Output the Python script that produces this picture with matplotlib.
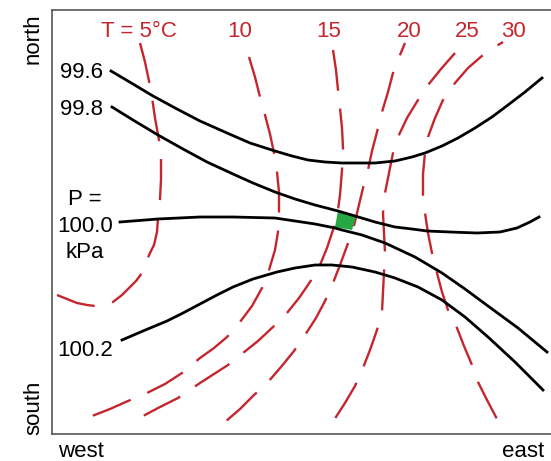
import matplotlib.pyplot as plt
from matplotlib.patches import Polygon

plt.rcParams['font.family'] = ['Liberation Sans', 'DejaVu Sans']

# map coordinates: x runs west -> east, y runs north -> south (pixel-like units)
# isobars (kPa), points
isobar_996_x = [111, 133, 153, 177, 200, 227, 250, 275, 292, 308, 325, 342, 357, 375,
                395, 412, 425, 442, 458, 475, 492, 508, 525, 542]
isobar_996_y = [71, 84, 96, 109, 121, 133, 143, 151, 156, 160, 162, 163, 163, 163,
                161, 157, 153, 146, 138, 128, 117, 105, 92, 78]
isobar_998_x = [112, 133, 158, 183, 207, 233, 253, 275, 295, 315, 338, 355, 375, 395,
                412, 427, 450, 477, 500, 517, 530, 539]
isobar_998_y = [107, 120, 135, 149, 162, 174, 183, 192, 199, 205, 211, 216, 222, 227,
                229, 231, 232, 233, 232, 228, 222, 217]
isobar_1000_x = [120, 158, 200, 233, 275, 295, 315, 335, 342, 362, 385, 415, 442, 465,
                 488, 518, 547]
isobar_1000_y = [222, 219, 217, 217, 218, 221, 224, 228, 230, 235, 243, 257, 273, 289,
                 306, 328, 352]
isobar_1002_x = [122, 143, 167, 183, 200, 217, 233, 253, 277, 295, 315, 332, 352, 375,
                 395, 418, 442, 465, 488, 515, 543]
isobar_1002_y = [340, 331, 321, 313, 304, 295, 287, 279, 272, 268, 265, 265, 267, 272,
                 278, 287, 300, 317, 337, 362, 390]

# isotherms (deg C)
t5_x = [140, 145, 149, 152, 155, 159, 161, 161, 160, 158, 157, 154, 150, 146, 142, 136,
        130, 122, 113, 104, 95, 87, 77, 67, 57]
t5_y = [43, 62, 81, 97, 118, 140, 160, 180, 199, 218, 232, 245, 253, 262, 273, 281,
        287, 295, 302, 305, 306, 305, 303, 299, 295]
t10_x = [249, 255, 260, 265, 270, 274, 277, 279, 279, 278, 275, 269, 262, 252, 240, 227,
         214, 200, 182, 165, 147, 128, 110, 92]
t10_y = [57, 77, 97, 115, 134, 153, 172, 192, 212, 232, 250, 270, 288, 306, 322, 337,
         348, 358, 373, 384, 393, 401, 409, 416]
t15_x = [333, 336, 338, 340, 342, 343, 342, 340, 337, 333, 327, 320, 310, 299, 287, 273,
         258, 243, 228, 214, 200, 178, 160, 143]
t15_y = [50, 70, 90, 108, 128, 148, 170, 195, 217, 230, 248, 265, 282, 298, 313, 327,
         341, 353, 365, 374, 383, 398, 407, 416]
t20_x = [405, 400, 393, 388, 382, 377, 372, 368, 363, 358, 353, 347, 340, 333, 325, 316,
         305, 294, 281, 268, 254, 240, 225]
t20_y = [43, 55, 73, 92, 112, 132, 151, 170, 188, 209, 230, 246, 265, 283, 301, 318,
         335, 351, 367, 382, 395, 409, 422]
t25_x = [455, 441, 428, 418, 407, 398, 393, 389, 385, 383, 384, 385, 384, 383, 382, 377,
         370, 363, 355, 345, 334]
t25_y = [53, 69, 85, 100, 118, 137, 153, 173, 193, 213, 233, 253, 272, 292, 312, 330,
         350, 368, 386, 403, 420]
t30_x = [503, 498, 483, 468, 455, 443, 435, 428, 425, 423, 423, 425, 428, 432, 437, 442,
         448, 457, 464, 472, 478, 487, 497]
t30_y = [42, 45, 55, 68, 83, 100, 118, 137, 153, 174, 195, 213, 233, 253, 273, 292,
         310, 328, 346, 365, 382, 400, 419]

isobar_labels = ["99.6", "99.8", "100.0", "100.2"]
isotherm_labels = ["T = 5°C", "10", "15", "20", "25", "30"]

# green cell between 99.8/100.0 and 15/20
cell_x = [338, 356, 352, 335]
cell_y = [211, 217, 230, 227]

RED = "#c4262e"

fig = plt.figure(figsize=(5.51, 4.61), dpi=100)
ax = fig.add_axes([52 / 551, 27 / 461, 499 / 551, 424 / 461])
ax.set_xlim(52, 551)
ax.set_ylim(434, 10)
ax.set_xticks([])
ax.set_yticks([])
ax.spines['right'].set_visible(False)
for s in ['left', 'top', 'bottom']:
    ax.spines[s].set_color('#555555')
    ax.spines[s].set_linewidth(1.2)

red_lw = 1.7
# dash phase (in points) so each isotherm starts like the original
isotherms = [(t5_x, t5_y, 0), (t10_x, t10_y, 0), (t15_x, t15_y, 0),
             (t20_x, t20_y, 20), (t25_x, t25_y, 0), (t30_x, t30_y, 25)]
for xs, ys, off in isotherms:
    ax.plot(xs, ys, color=RED, lw=red_lw, solid_capstyle='butt',
            linestyle=(off / red_lw, (17.4, 7.6)), zorder=2)

ax.add_patch(Polygon(list(zip(cell_x, cell_y)), closed=True,
                     facecolor='#25a744', edgecolor='none', zorder=3))

for xs, ys in [(isobar_996_x, isobar_996_y), (isobar_998_x, isobar_998_y),
               (isobar_1000_x, isobar_1000_y), (isobar_1002_x, isobar_1002_y)]:
    ax.plot(xs, ys, color='black', lw=2.0, zorder=4, solid_joinstyle='round')

fs = 16
tx = [139, 240, 329, 409, 467, 513]
for lab, x in zip(isotherm_labels, tx):
    ax.text(x, 37, lab, color=RED, fontsize=fs, ha='center', va='baseline')

ax.text(103, 78, isobar_labels[0], fontsize=fs, ha='right', va='baseline')
ax.text(103, 115, isobar_labels[1], fontsize=fs, ha='right', va='baseline')
ax.text(85, 205, "P =", fontsize=fs, ha='center', va='baseline')
ax.text(85, 232, isobar_labels[2], fontsize=fs, ha='center', va='baseline')
ax.text(85, 258, "kPa", fontsize=fs, ha='center', va='baseline')
ax.text(85, 356, isobar_labels[3], fontsize=fs, ha='center', va='baseline')

ax.text(81, 457, "west", fontsize=fs, ha='center', va='baseline', clip_on=False)
ax.text(523, 457, "east", fontsize=fs, ha='center', va='baseline', clip_on=False)
ax.text(39, 39, "north", fontsize=fs, rotation=90, rotation_mode='anchor',
        ha='center', va='baseline', clip_on=False)
ax.text(39, 408, "south", fontsize=fs, rotation=90, rotation_mode='anchor',
        ha='center', va='baseline', clip_on=False)

fig.savefig("out.png", dpi=100)
